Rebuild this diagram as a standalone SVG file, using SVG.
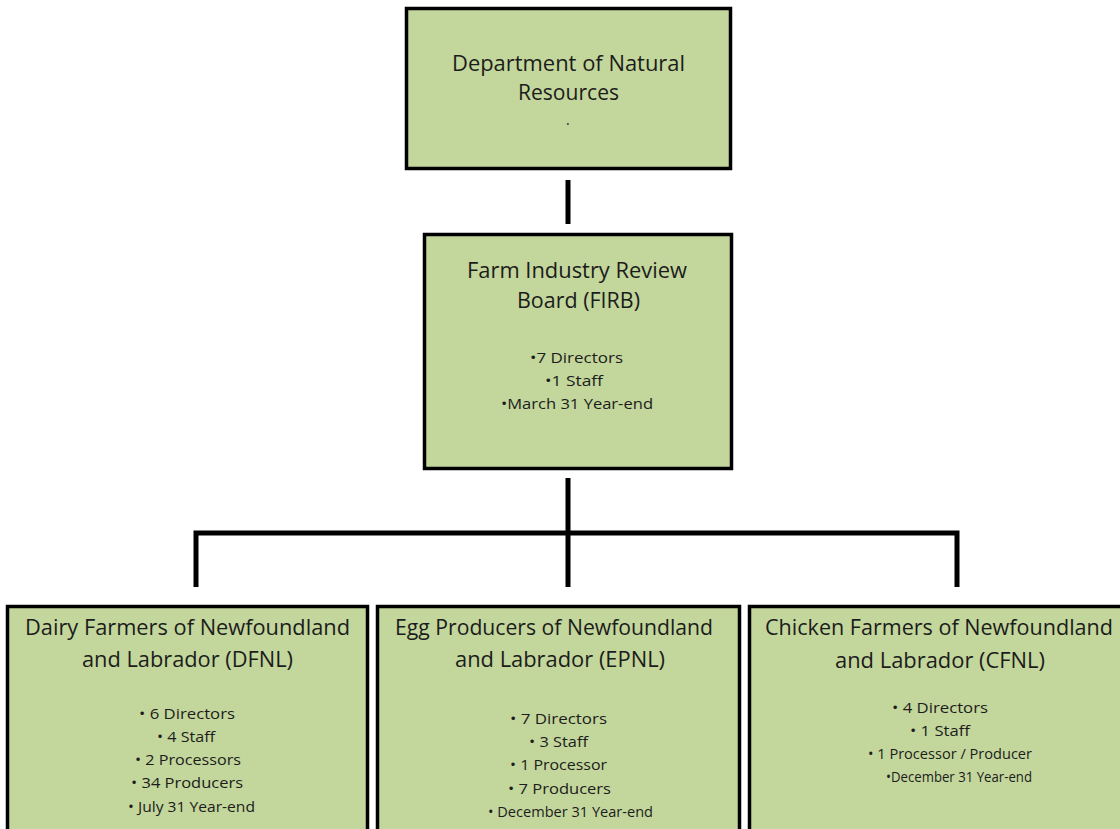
<svg xmlns="http://www.w3.org/2000/svg" width="1120" height="829" viewBox="0 0 1120 829">
<style>
.box{fill:#c3d69b;stroke:#000;stroke-width:3.5}
.t{font-family:"Open Sans","Noto Sans",sans-serif;font-size:21px;fill:#1c1c1c}
.b{font-family:"Open Sans","Noto Sans",sans-serif;font-size:14px;fill:#1c1c1c}
.c{fill:none;stroke:#000;stroke-width:5;stroke-linejoin:miter}
</style>
<rect width="1120" height="829" fill="#fff"/>
<g id="connectors">
<path class="c" d="M568,180 V224"/>
<path class="c" d="M568,478 V587"/>
<path class="c" d="M196,587 V533 H957 V587"/>
</g>
<g id="dnr">
<rect class="box" x="406.5" y="8.5" width="324" height="160"/>
<text class="t" x="452" y="71" textLength="233" lengthAdjust="spacingAndGlyphs">Department of Natural</text>
<text class="t" x="518" y="100" textLength="101" lengthAdjust="spacingAndGlyphs">Resources</text>
<text class="b" x="566" y="125">.</text>
</g>
<g id="firb">
<rect class="box" x="424.5" y="234.5" width="307" height="234"/>
<text class="t" x="467" y="278" textLength="220" lengthAdjust="spacingAndGlyphs">Farm Industry Review</text>
<text class="t" x="517" y="308" textLength="123" lengthAdjust="spacingAndGlyphs">Board (FIRB)</text>
<text class="b" x="530" y="363" textLength="93" lengthAdjust="spacingAndGlyphs">•7 Directors</text>
<text class="b" x="545" y="386" textLength="58" lengthAdjust="spacingAndGlyphs">•1 Staff</text>
<text class="b" x="501" y="409" textLength="152" lengthAdjust="spacingAndGlyphs">•March 31 Year-end</text>
</g>
<g id="dfnl">
<rect class="box" x="7.5" y="606.5" width="360" height="240"/>
<text class="t" x="25" y="635" textLength="325" lengthAdjust="spacingAndGlyphs">Dairy Farmers of Newfoundland</text>
<text class="t" x="82" y="667" textLength="211" lengthAdjust="spacingAndGlyphs">and Labrador (DFNL)</text>
<text class="b" x="139" y="719" textLength="96" lengthAdjust="spacingAndGlyphs">• 6 Directors</text>
<text class="b" x="157" y="742" textLength="58" lengthAdjust="spacingAndGlyphs">• 4 Staff</text>
<text class="b" x="135" y="765" textLength="106" lengthAdjust="spacingAndGlyphs">• 2 Processors</text>
<text class="b" x="131" y="788" textLength="112" lengthAdjust="spacingAndGlyphs">• 34 Producers</text>
<text class="b" x="128" y="812" textLength="127" lengthAdjust="spacingAndGlyphs">• July 31 Year-end</text>
</g>
<g id="epnl">
<rect class="box" x="377.5" y="606.5" width="362" height="240"/>
<text class="t" x="395" y="635" textLength="318" lengthAdjust="spacingAndGlyphs">Egg Producers of Newfoundland</text>
<text class="t" x="455" y="667" textLength="210" lengthAdjust="spacingAndGlyphs">and Labrador (EPNL)</text>
<text class="b" x="510" y="724" textLength="97" lengthAdjust="spacingAndGlyphs">• 7 Directors</text>
<text class="b" x="529" y="747" textLength="59" lengthAdjust="spacingAndGlyphs">• 3 Staff</text>
<text class="b" x="510" y="770" textLength="97" lengthAdjust="spacingAndGlyphs">• 1 Processor</text>
<text class="b" x="508" y="794" textLength="103" lengthAdjust="spacingAndGlyphs">• 7 Producers</text>
<text class="b" x="488" y="817" textLength="165" lengthAdjust="spacingAndGlyphs">• December 31 Year-end</text>
</g>
<g id="cfnl">
<rect class="box" x="749.5" y="606.5" width="400" height="240"/>
<text class="t" x="765" y="635" textLength="348" lengthAdjust="spacingAndGlyphs">Chicken Farmers of Newfoundland</text>
<text class="t" x="835" y="668" textLength="210" lengthAdjust="spacingAndGlyphs">and Labrador (CFNL)</text>
<text class="b" x="892" y="713" textLength="96" lengthAdjust="spacingAndGlyphs">• 4 Directors</text>
<text class="b" x="910" y="736" textLength="60" lengthAdjust="spacingAndGlyphs">• 1 Staff</text>
<text class="b" x="868" y="759" textLength="164" lengthAdjust="spacingAndGlyphs">• 1 Processor / Producer</text>
<text class="b" x="886" y="782" textLength="146" lengthAdjust="spacingAndGlyphs">•December 31 Year-end</text>
</g>
</svg>
